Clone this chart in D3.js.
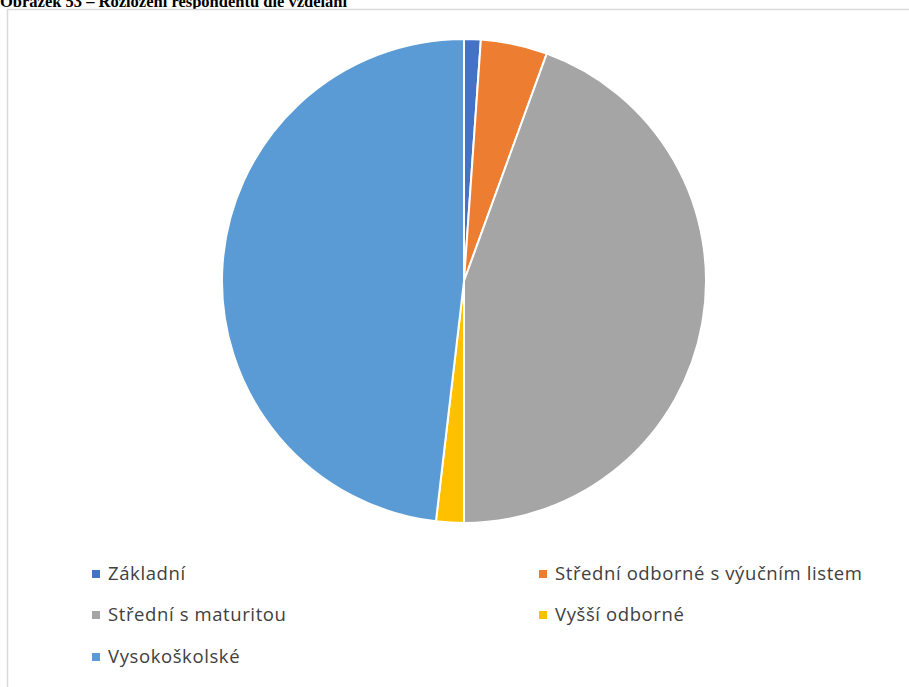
<!DOCTYPE html>
<html>
<head>
<meta charset="utf-8">
<script src="https://cdn.jsdelivr.net/npm/d3@7"></script>
<style>
  html, body { margin: 0; padding: 0; background: #fff; overflow: hidden; }
  svg { display: block; }
</style>
</head>
<body>
<svg id="chart" width="909" height="687"></svg>
<script>
// Respondents by education level
const categories = [
  "Základní",
  "Střední odborné s výučním listem",
  "Střední s maturitou",
  "Vyšší odborné",
  "Vysokoškolské"
];
const counts = [3, 12, 120, 5, 130];
const colors = ["#4472C4", "#ED7D31", "#A5A5A5", "#FFC000", "#5B9BD5"];

const svg = d3.select("#chart");

// Caption above the chart frame (runs off the top edge of the page)
svg.append("text")
  .attr("x", 0).attr("y", 6.5)
  .attr("font-family", "Liberation Serif, serif")
  .attr("font-weight", "bold")
  .attr("font-size", 16.5)
  .attr("fill", "#000")
  .text("Obrázek 53 – Rozložení respondentů dle vzdělání");

// Chart area frame
svg.append("rect")
  .attr("x", 7.5).attr("y", 9.5)
  .attr("width", 920).attr("height", 700)
  .attr("fill", "#fff")
  .attr("stroke", "#d9d9d9")
  .attr("stroke-width", 1.5);

const cx = 464, cy = 281, r = 242;
const color = d3.scaleOrdinal().domain(categories).range(colors);

const pie = d3.pie().sort(null).value(d => d.v);
const arc = d3.arc().innerRadius(0).outerRadius(r);
const data = categories.map((c, i) => ({ c, v: counts[i] }));

svg.append("g")
  .attr("transform", `translate(${cx},${cy})`)
  .selectAll("path")
  .data(pie(data))
  .join("path")
  .attr("d", arc)
  .attr("fill", d => color(d.data.c))
  .attr("stroke", "#fff")
  .attr("stroke-width", 2)
  .attr("stroke-linejoin", "round");

// Legend in two columns
const legendPos = [
  { x: 92, y: 574 }, { x: 539, y: 574 },
  { x: 92, y: 615 }, { x: 539, y: 615 },
  { x: 92, y: 657 }
];
const lg = svg.append("g").selectAll("g")
  .data(categories)
  .join("g")
  .attr("transform", (d, i) => `translate(${legendPos[i].x},${legendPos[i].y})`);
lg.append("rect")
  .attr("x", 0).attr("y", -4)
  .attr("width", 8).attr("height", 8)
  .attr("fill", d => color(d));
lg.append("text")
  .attr("x", 16).attr("y", 0)
  .attr("dy", "0.35em")
  .attr("font-family", "Open Sans, sans-serif")
  .attr("font-size", 18.5)
  .attr("letter-spacing", 0.6)
  .attr("fill", "#404040")
  .text(d => d);
</script>
</body>
</html>
